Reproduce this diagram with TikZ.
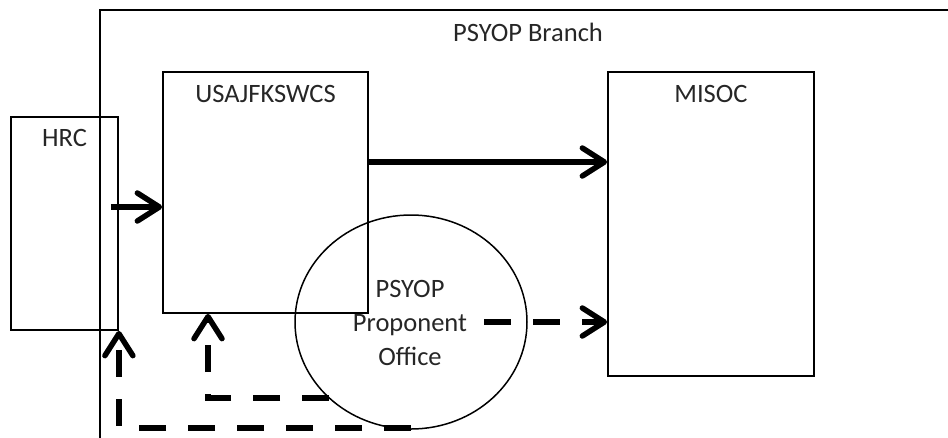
\documentclass[tikz,border=0pt]{standalone}
\usepackage{fontspec}
\setmainfont{Carlito}
\usetikzlibrary{arrows.meta,shapes.geometric,calc}
\begin{document}
\begin{tikzpicture}[x=1pt,y=-1pt,
  box/.style={draw, line width=1.8pt, rectangle, inner sep=0pt},
  txt/.style={font=\fontsize{26.5}{32}\selectfont, inner sep=0pt, text=black!85},
  tip/.style={-{Straight Barb[length=22pt,width=28pt,line cap=round,line join=round]}},
  solidcon/.style={line width=5.5pt, tip},
  dashcon/.style={line width=5.5pt, tip, dash pattern=on 27pt off 22pt}
]
\useasboundingbox (0,0) rectangle (948,437);
\clip (0,0) rectangle (948,437);
% outer PSYOP Branch frame (extends beyond the picture)
\node[box, minimum width=900pt, minimum height=500pt] (branch) at (550,260) {};
\node[txt, anchor=base] (branchlbl) at (528,41) {PSYOP Branch};
% boxes
\node[box, minimum width=107pt, minimum height=213pt] (hrc) at (64.5,223.5) {};
\node[box, minimum width=205pt, minimum height=241pt] (usaj) at (265.5,192.5) {};
\node[box, minimum width=206pt, minimum height=304pt] (misoc) at (711,224) {};
\node[txt, anchor=base] (hrclbl) at ($(hrc.north)+(0,30)$) {HRC};
\node[txt, anchor=base] (usajlbl) at ($(usaj.north)+(0,31)$) {USAJFKSWCS};
\node[txt, anchor=base] (misoclbl) at ($(misoc.north)+(0,31)$) {MISOC};
% ellipse
\node[draw, line width=1.5pt, ellipse, minimum width=232pt, minimum height=214pt, inner sep=0pt] (office) at (411,322) {};
\node[txt, align=center] (officelbl) at (410,323) {PSYOP\\[2pt]Proponent\\[2pt]Office};
% connectors
\draw[solidcon] ([xshift=-8pt]hrc.east |- 0,207) -- (usaj.west |- 0,207);
\draw[solidcon] (usaj.east |- 0,162) -- (misoc.west |- 0,162);
\draw[dashcon] ($(office.center)+(73,0)$) -- (misoc.west |- office.center);
\draw[dashcon] ($(office.center)+(-82,76)$) -| ([xshift=-57.5pt]usaj.south);
\draw[dashcon] ([yshift=2pt]office.south) -| (hrc.south east);
\end{tikzpicture}
\end{document}
